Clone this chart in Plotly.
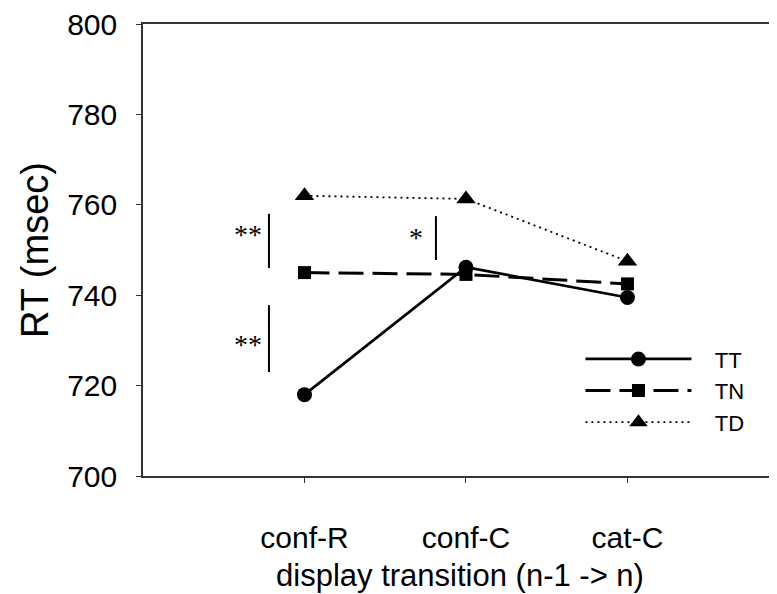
import plotly.graph_objects as go

categories = ["conf-R", "conf-C", "cat-C"]
x_pos = [1, 2, 3]
tt = [718.0, 746.2, 739.5]
tn = [745.0, 744.6, 742.5]
td = [762.0, 761.3, 747.5]
y_ticks = [700, 720, 740, 760, 780, 800]

FONT = "Liberation Sans, Arial, sans-serif"

fig = go.Figure()
fig.add_trace(go.Scatter(x=x_pos, y=tt, name="&nbsp;&nbsp;&nbsp;TT", mode="lines+markers",
                         line=dict(color="black", width=2.7, dash="solid"),
                         marker=dict(symbol="circle", size=15, color="black")))
fig.add_trace(go.Scatter(x=x_pos, y=tn, name="&nbsp;&nbsp;&nbsp;TN", mode="lines+markers",
                         line=dict(color="black", width=3, dash="25px,9px"),
                         marker=dict(symbol="square", size=13, color="black")))
fig.add_trace(go.Scatter(x=x_pos, y=td, name="&nbsp;&nbsp;&nbsp;TD", mode="lines+markers",
                         line=dict(color="black", width=1.8, dash="2px,4px"),
                         marker=dict(symbol="triangle-up", size=17, color="black")))

# significance bars (x, y_start, y_end)
sig_bars = [(0.78, 723.0, 737.8), (0.78, 746.0, 758.0), (1.814, 747.8, 757.5)]
for x, y0, y1 in sig_bars:
    fig.add_shape(type="line", x0=x, x1=x, y0=y0, y1=y1, xref="x", yref="y",
                  line=dict(color="black", width=2))
sig_labels = [(0.65, 753.4, "**"), (0.65, 729.0, "**"), (1.69, 752.8, "*")]
for x, y, t in sig_labels:
    fig.add_annotation(x=x, y=y, text=t, showarrow=False, xref="x", yref="y",
                       font=dict(family="Liberation Serif, Times New Roman, serif", size=28, color="black"))

# the page body has an 8px margin, so the figure is sized/offset to compensate
fig.update_layout(
    width=769, height=586,
    margin=dict(l=135, r=0, t=16, b=118, autoexpand=False),
    paper_bgcolor="white", plot_bgcolor="white",
    font=dict(family=FONT, color="black"),
    showlegend=True,
    legend=dict(x=0.69, y=0.305, xanchor="left", yanchor="top",
                font=dict(size=22, family=FONT), itemwidth=106,
                bgcolor="rgba(0,0,0,0)", tracegroupgap=0),
    xaxis=dict(range=[0, 3.926], tickvals=x_pos, ticktext=categories,
               showline=True, linecolor="#333", linewidth=1.5, mirror=True,
               ticks="outside", ticklen=5, tickcolor="#333", showgrid=False, zeroline=False,
               tickfont=dict(size=30, family=FONT), ticklabelstandoff=29,
               ticklabeloverflow="allow",
               title=dict(text="display transition (n-1 -> n)", font=dict(size=31, family=FONT), standoff=12)),
    yaxis=dict(range=[700, 800], tickvals=y_ticks,
               showline=True, linecolor="#333", linewidth=1.5, mirror=False,
               ticks="outside", ticklen=5, tickcolor="#333", showgrid=False, zeroline=False,
               tickfont=dict(size=30, family=FONT), ticklabelstandoff=13,
               ticklabeloverflow="allow",
               title=dict(text="RT (msec)", font=dict(size=38, family=FONT), standoff=7)),
)

fig.write_html("out.html")
